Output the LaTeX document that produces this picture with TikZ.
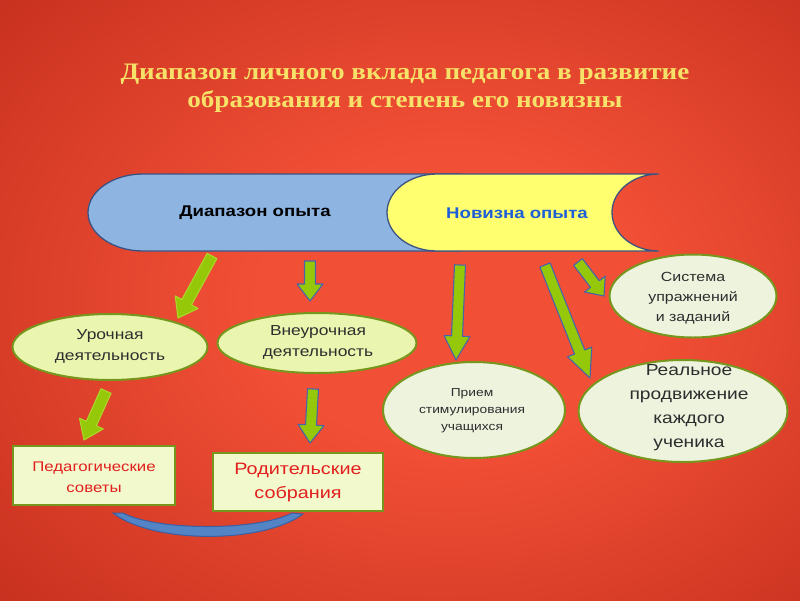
\documentclass[tikz,border=0pt]{standalone}
\usepackage{fontspec}
\setmainfont{Liberation Serif}
\setsansfont[FakeStretch=1.2]{Liberation Sans}
\newfontfamily\titlefont[FakeStretch=1.15]{Liberation Serif}
\usetikzlibrary{calc,positioning,shapes.geometric}

\definecolor{bgin}{RGB}{242,80,54}
\definecolor{bgout}{RGB}{170,27,15}
\definecolor{titleyellow}{RGB}{246,226,104}
\definecolor{scrollblue}{RGB}{142,180,226}
\definecolor{scrollyellow}{RGB}{255,255,112}
\definecolor{scrolledge}{RGB}{60,82,130}
\definecolor{novblue}{RGB}{30,95,215}
\definecolor{arrowgreen}{RGB}{150,200,10}
\definecolor{arrowedge}{RGB}{70,100,170}
\definecolor{arrowlight}{RGB}{170,215,40}
\definecolor{ovalfill}{RGB}{234,246,176}
\definecolor{ovalpale}{RGB}{238,243,222}
\definecolor{ovaledge}{RGB}{118,150,30}
\definecolor{ovalink}{RGB}{45,45,45}
\definecolor{boxfill}{RGB}{242,250,205}
\definecolor{boxink}{RGB}{226,30,30}
\definecolor{bandblue}{RGB}{82,132,198}
\definecolor{bandedge}{RGB}{60,95,160}

\pgfdeclareradialshading{redbg}{\pgfpoint{4bp}{0bp}}{%
  color(0bp)=(bgin); color(12bp)=(bgin); color(55bp)=(bgout); color(75bp)=(bgout)}

\newcommand\fs[2]{\fontsize{#1}{#2}\selectfont}

% block arrow: style, from, to, head length
\newcommand\fatarrow[4]{%
  \coordinate (fa-h) at ($(#3)!#4pt!(#2)$);
  \filldraw[#1] ($(#2)!5.5pt!90:(#3)$) -- ($(fa-h)!5.5pt!-90:(#2)$)
    -- ($(fa-h)!13pt!-90:(#2)$) -- (#3) -- ($(fa-h)!13pt!90:(#2)$)
    -- ($(fa-h)!5.5pt!90:(#2)$) -- ($(#2)!5.5pt!-90:(#3)$) -- cycle;
}

\begin{document}
\begin{tikzpicture}[x=1pt,y=-1pt,
  scrollpart/.style={draw=scrolledge, line width=1.3pt},
  scrolltext/.style={font=\sffamily\bfseries\fs{15.5}{18}, inner sep=0pt},
  fatarrow/.style={fill=arrowgreen, draw=arrowedge, line width=1.1pt, line join=round},
  fatarrowlight/.style={fill=arrowgreen, draw=arrowlight, line width=1.1pt, line join=round},
  oval/.style={ellipse, draw=ovaledge, line width=2pt, inner sep=0pt},
  ovaltext/.style={align=center, text=ovalink, font=\sffamily, inner sep=0pt},
  box/.style={rectangle, draw=ovaledge, fill=boxfill, line width=2pt, inner sep=0pt},
  boxtext/.style={align=center, text=boxink, font=\sffamily, inner sep=0pt},
  band/.style={fill=bandblue, draw=bandedge, line width=1pt}]

  % background
  \shade[shading=redbg] (0,0) rectangle (800,600);
  \useasboundingbox (0,0) rectangle (800,600);

  % title
  \node[align=center, text=titleyellow, font=\titlefont\bfseries\fs{23.6}{28}]
    (title) at (405,88) {Диапазон личного вклада педагога в развитие\\образования и степень его новизны};

  % scroll
  \draw[scrollpart, fill=scrollblue] (460,174) -- (143,174)
    arc[start angle=270, end angle=90, x radius=55, y radius=38.5] -- (460,251) -- cycle;
  \draw[scrollpart, fill=scrollyellow] (437,174) -- (659,174)
    arc[start angle=270, end angle=90, x radius=47, y radius=38.5] -- (437,251)
    arc[start angle=90, end angle=270, x radius=50, y radius=38.5] -- cycle;
  \node[scrolltext] (range) at (255,213) {Диапазон опыта};
  \node[scrolltext, text=novblue] (novelty) at (517,213) {Новизна опыта};

  % ovals
  \node[oval, fill=ovalfill, minimum width=195, minimum height=66] (lesson) at (110,347) {};
  \node[ovaltext, font=\sffamily\fs{14.5}{21}] (lesson-t) at (110,346) {Урочная\\деятельность};
  \node[oval, fill=ovalfill, minimum width=199, minimum height=60] (extra) at (317,343) {};
  \node[ovaltext, font=\sffamily\fs{14.5}{21}] (extra-t) at (318,342) {Внеурочная\\деятельность};
  \node[oval, fill=ovalpale, minimum width=182, minimum height=96] (stim) at (474,410) {};
  \node[ovaltext, font=\sffamily\fs{11.5}{17}] (stim-t) at (472,411) {Прием\\стимулирования\\учащихся};
  \node[oval, fill=ovalpale, minimum width=167, minimum height=83] (tasks) at (693,296) {};
  \node[ovaltext, font=\sffamily\fs{13.3}{20}] (tasks-t) at (693,298) {Система\\упражнений\\и заданий};
  \node[oval, fill=ovalpale, minimum width=209, minimum height=102] (real) at (683,411) {};
  \node[ovaltext, font=\sffamily\fs{16}{24}] (real-t) at (689,408) {Реальное\\продвижение\\каждого\\ученика};

  % boxes
  \node[box, minimum width=162, minimum height=59] (council) at (94,475) {};
  \node[boxtext, font=\sffamily\fs{14}{21}] (council-t) at (94,477) {Педагогические\\советы};
  \node[box, minimum width=170, minimum height=58] (parents) at (298,482) {};
  \node[boxtext, font=\sffamily\fs{16.5}{24}] (parents-t) at (298,483) {Родительские\\собрания};

  % arrow ends
  \coordinate (a1s) at (212,256);
  \coordinate (a1e) at (178,318);
  \coordinate (a2s) at (310,261);
  \coordinate (a2e) at (310,301);
  \coordinate (a3s) at (460,265);
  \coordinate (a3e) at (456,360);
  \coordinate (a4s) at (545,265);
  \coordinate (a4e) at (590,378);
  \coordinate (a5s) at (578,262);
  \coordinate (a5e) at (604,296);
  \coordinate (a6s) at (106,391);
  \coordinate (a6e) at (84,440);
  \coordinate (a7s) at (313,389);
  \coordinate (a7e) at (310,443);

  \fatarrow{fatarrowlight}{a1s}{a1e}{18}
  \fatarrow{fatarrow}{a2s}{a2e}{17}
  \fatarrow{fatarrow}{a3s}{a3e}{24}
  \fatarrow{fatarrow}{a4s}{a4e}{28}
  \fatarrow{fatarrow}{a5s}{a5e}{15}
  \fatarrow{fatarrowlight}{a6s}{a6e}{18}
  \fatarrow{fatarrow}{a7s}{a7e}{18}

  % link under the boxes
  \coordinate (bandL) at (113,513);
  \coordinate (bandR) at (303,514);
  \draw[band] (bandL) .. controls (153,544) and (263,544) .. (bandR)
    -- (292,513) .. controls (258,531) and (157,531) .. (123,513) -- cycle;
\end{tikzpicture}
\end{document}
